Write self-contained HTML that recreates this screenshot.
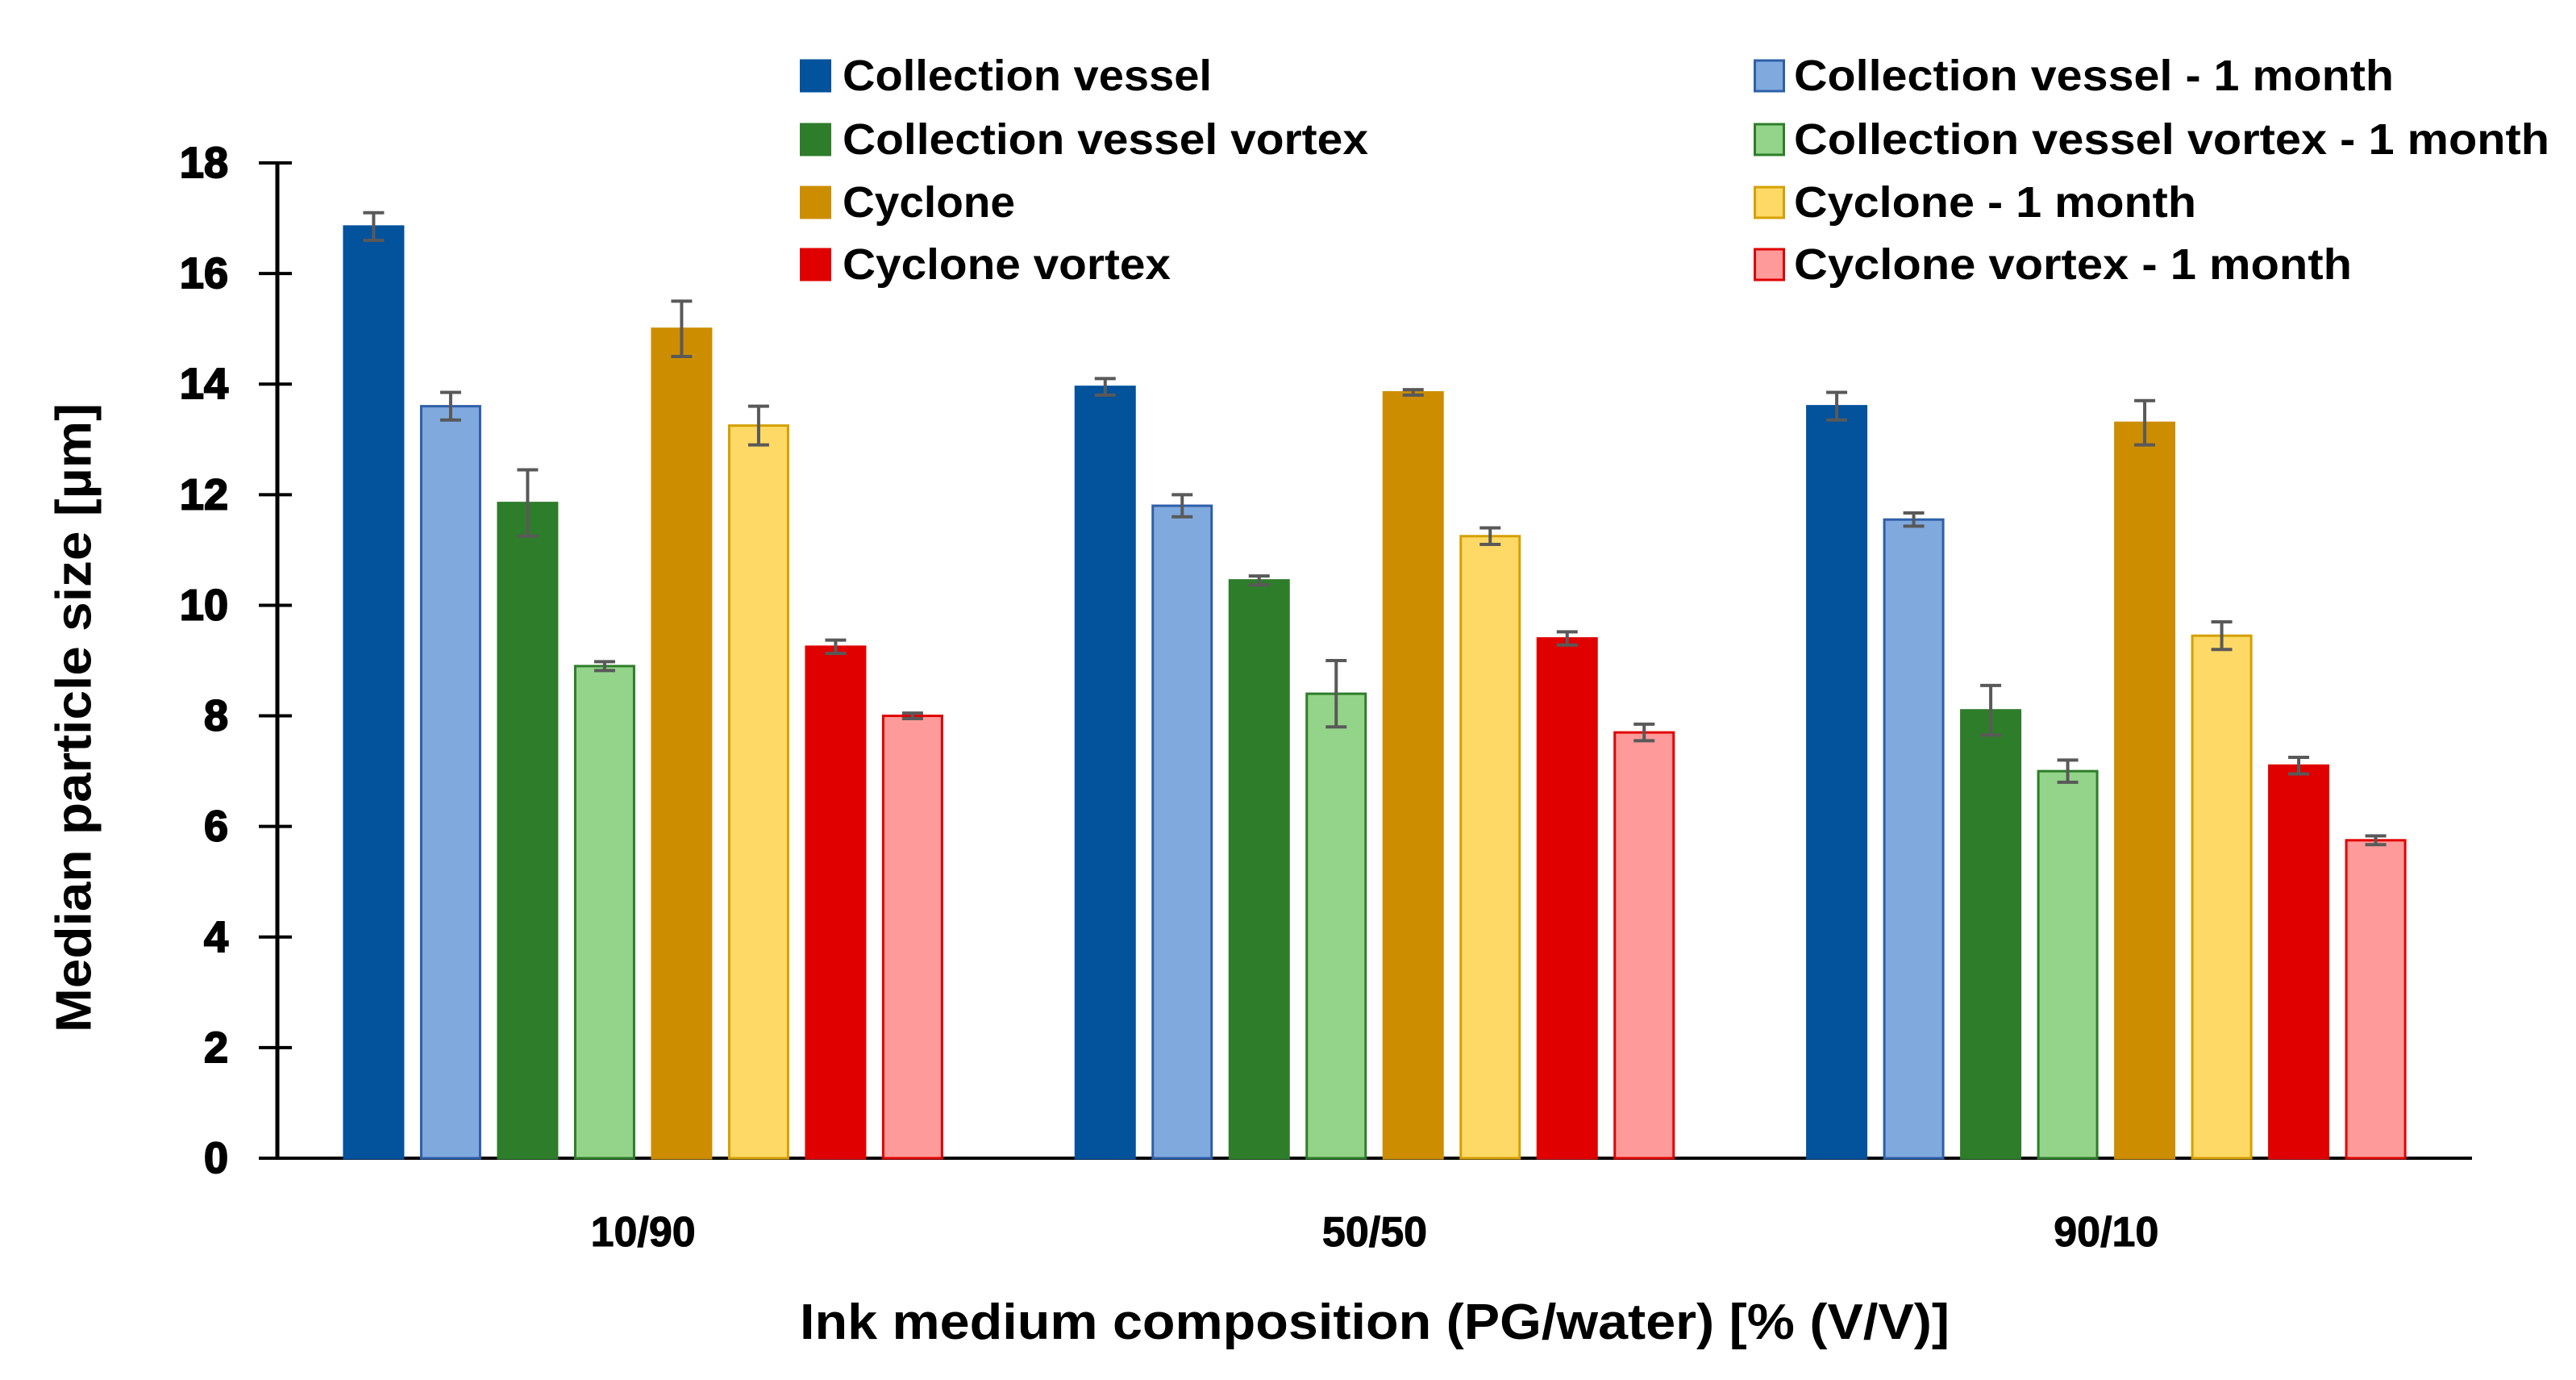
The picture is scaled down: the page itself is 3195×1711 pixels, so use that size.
<!DOCTYPE html>
<html><head><meta charset="utf-8"><style>
html,body{margin:0;padding:0;background:#fff;}
svg{display:block;}
</style></head><body>
<svg id="chart" width="3195" height="1711" viewBox="0 0 3195 1711" xmlns="http://www.w3.org/2000/svg">
<g id="legend"></g>
<g id="axes"></g>
<g id="bars"></g>
<text x="92" y="890" transform="rotate(-90 92 890)" text-anchor="middle" dominant-baseline="central" font-family="Liberation Sans, sans-serif" font-size="62" font-weight="bold" textLength="780" lengthAdjust="spacingAndGlyphs">Median particle size [µm]</text>
<text x="1705" y="1660" text-anchor="middle" font-family="Liberation Sans, sans-serif" font-size="62" font-weight="bold" textLength="1426" lengthAdjust="spacingAndGlyphs">Ink medium composition (PG/water) [% (V/V)]</text>
</svg>
<script>
const categories = ["10/90", "50/50", "90/10"];
const seriesNames = ["Collection vessel","Collection vessel - 1 month","Collection vessel vortex","Collection vessel vortex - 1 month","Cyclone","Cyclone - 1 month","Cyclone vortex","Cyclone vortex - 1 month"];
const values = [
  [16.85, 13.95, 13.6],
  [13.6, 11.8, 11.55],
  [11.85, 10.45, 8.1],
  [8.9, 8.4, 7.0],
  [15.0, 13.85, 13.3],
  [13.25, 11.25, 9.45],
  [9.25, 9.4, 7.1],
  [8.0, 7.7, 5.75]
];
const errors = [
  [0.25, 0.15, 0.25],
  [0.25, 0.2, 0.12],
  [0.6, 0.08, 0.45],
  [0.08, 0.6, 0.2],
  [0.5, 0.05, 0.4],
  [0.35, 0.15, 0.25],
  [0.12, 0.12, 0.15],
  [0.05, 0.15, 0.08]
];
const yTicks = [0,2,4,6,8,10,12,14,16,18];

const fills = ["#02529c","#80aade","#2e7d2a","#94d48a","#cc8e00","#ffd966","#e00000","#ff9a9a"];
const strokes = ["#02529c","#2e5fa8","#2e7d2a","#2e7d2a","#cc8e00","#d4a000","#e00000","#e00000"];
const NS = "http://www.w3.org/2000/svg";
const X0 = 344, X1 = 3066, Y0 = 1436, Y18 = 202;
const yScale = v => Y0 - (v / 18) * (Y0 - Y18);
const catW = (X1 - X0) / categories.length;
const catCenter = i => X0 + catW * (i + 0.5);
const barW = 76, step = 95.5;
const barX = (ci, si) => catCenter(ci) + (si - 3.5) * step - barW / 2;

function mk(tag, attrs, parent) {
  const e = document.createElementNS(NS, tag);
  for (const k in attrs) e.setAttribute(k, attrs[k]);
  parent.appendChild(e);
  return e;
}
const axes = document.getElementById('axes');
const bars = document.getElementById('bars');
const legend = document.getElementById('legend');

let a = mk('line', {x1: X0, y1: Y18 - 2, x2: X0, y2: Y0 + 2, stroke: '#000', 'stroke-width': 5}, axes);


a = mk('line', {x1: 321, y1: Y0, x2: X1, y2: Y0, stroke: '#000', 'stroke-width': 4}, axes);


yTicks.forEach(t => {
  const y = yScale(t);
  const l = mk('line', {x1: 321, y1: y, x2: 362, y2: y, stroke: '#000', 'stroke-width': 4}, axes);
  
  
  const tx = mk('text', {x: 283, y: y, 'text-anchor': 'end', 'dominant-baseline': 'central', 'font-family': 'Liberation Sans, sans-serif', 'font-size': 54, 'font-weight': 'bold', 'stroke': '#000', 'stroke-width': 2}, axes);
  tx.textContent = t;
  
  
});
categories.forEach((c, i) => {
  const tx = mk('text', {x: catCenter(i), y: 1545, 'text-anchor': 'middle', 'font-family': 'Liberation Sans, sans-serif', 'font-size': 52, 'font-weight': 'bold', 'stroke': '#000', 'stroke-width': 1}, axes);
  tx.textContent = c;
  
  
});

values.forEach((ser, si) => {
  ser.forEach((v, ci) => {
    const x = barX(ci, si), y = yScale(v);
    const r = mk('rect', {x: x + 1.5, y: y, width: barW - 3, height: Y0 - y, fill: fills[si], stroke: strokes[si], 'stroke-width': 3}, bars);
    
    
    const cx = x + barW / 2, yt = yScale(v + errors[si][ci]), yb = yScale(v - errors[si][ci]);
    const g = mk('g', {stroke: '#595959', 'stroke-width': 4}, bars);
    
    
    mk('line', {x1: cx, y1: yt, x2: cx, y2: yb}, g);
    mk('line', {x1: cx - 13, y1: yt, x2: cx + 13, y2: yt}, g);
    mk('line', {x1: cx - 13, y1: yb, x2: cx + 13, y2: yb}, g);
  });
});

const rowsY = [94, 173, 251, 328];
const textLens = [458, 744, 652, 937, 214, 499, 407, 692];
seriesNames.forEach((n, si) => {
  const col = si % 2, row = Math.floor(si / 2);
  const sx = col ? 2175 : 992, tx = col ? 2225 : 1045;
  const g = mk('g', {}, legend);
  
  
  mk('rect', {x: sx + 1.5, y: rowsY[row] - 19, width: 36, height: 38, fill: fills[si], stroke: strokes[si], 'stroke-width': 3}, g);
  const t = mk('text', {x: tx, y: rowsY[row], 'dominant-baseline': 'central', 'font-family': 'Liberation Sans, sans-serif', 'font-size': 54, 'font-weight': 'bold', textLength: textLens[si], lengthAdjust: 'spacingAndGlyphs'}, g);
  t.textContent = n;
});
</script>
</body></html>
